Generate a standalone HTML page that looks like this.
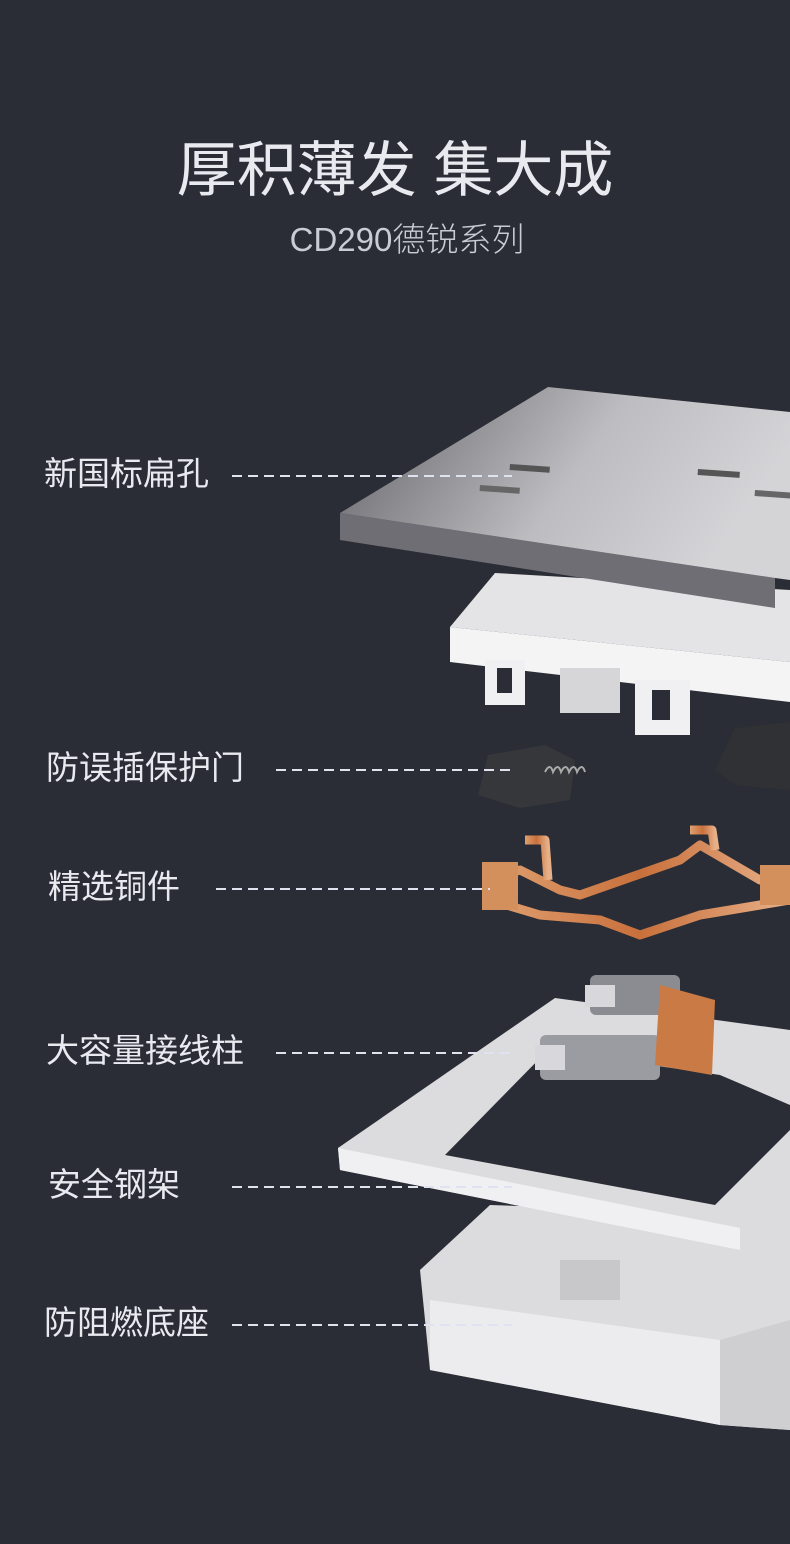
<!DOCTYPE html>
<html><head><meta charset="utf-8"><style>
body{margin:0;background:#2a2d35;}
.w{position:relative;width:790px;height:1544px;overflow:hidden;background:#2a2d35;font-family:"Liberation Sans","Noto Sans CJK SC",sans-serif;color:#e8eaf0}
.t{position:absolute;left:0;width:790px;text-align:center}
.l{position:absolute;font-size:33px;line-height:38px;white-space:nowrap}
</style></head><body><div class="w">
<div class="t" style="top:136px;font-size:60px;line-height:70px;">厚积薄发 集大成</div>
<div class="t" style="top:220px;font-size:33px;line-height:40px;color:#c9ccd4;font-weight:300;padding-left:24px;box-sizing:border-box">CD290德锐系列</div>
<svg width="790" height="1544" style="position:absolute;left:0;top:0">
<defs>
<linearGradient id="g1" x1="0" y1="0" x2="1" y2="0.3"><stop offset="0" stop-color="#606066"/><stop offset="0.6" stop-color="#bdbcc0"/><stop offset="1" stop-color="#d4d3d6"/></linearGradient>
<linearGradient id="cu" x1="0" y1="0" x2="1" y2="0"><stop offset="0" stop-color="#e0a070"/><stop offset="0.5" stop-color="#c8703c"/><stop offset="1" stop-color="#e8b088"/></linearGradient>
</defs>
<!-- base -->
<polygon points="490,1205 790,1215 790,1430 720,1425 430,1370 420,1270" fill="#dcdcde"/>
<polygon points="430,1300 720,1340 720,1425 430,1370" fill="#ececee"/>
<polygon points="720,1340 790,1320 790,1430 720,1425" fill="#cfcfd2"/>
<rect x="560" y="1260" width="60" height="40" fill="#c8c8cb"/>
<!-- frame -->
<polygon points="555,998 790,1030 790,1260 740,1250 340,1170 338,1148" fill="#dcdcdf"/>
<polygon points="548,1050 720,1075 790,1105 790,1130 715,1205 445,1155" fill="#2a2d35"/>
<polygon points="338,1148 740,1228 740,1250 340,1170" fill="#f0f0f2"/>
<!-- terminals -->
<rect x="590" y="975" width="90" height="40" rx="6" fill="#8a8c92"/>
<rect x="540" y="1035" width="120" height="45" rx="6" fill="#9a9ca2"/>
<polygon points="660,985 715,1000 712,1075 655,1065" fill="#c97a45"/>
<rect x="585" y="985" width="30" height="22" fill="#d8d8dc"/>
<rect x="535" y="1045" width="30" height="25" fill="#d8d8dc"/>
<!-- copper -->
<g fill="none" stroke="url(#cu)" stroke-width="9" stroke-linejoin="round">
<path d="M490,880 L520,870 L560,890 L580,895 L680,860 L700,845 L760,880 L790,870"/>
<path d="M490,900 L540,915 L600,920 L640,935 L700,915 L760,905 L790,900"/>
<path d="M525,840 L545,840 L548,880"/>
<path d="M690,830 L712,830 L715,850"/>
</g>
<rect x="482" y="862" width="36" height="48" fill="#d4905c"/>
<rect x="760" y="865" width="30" height="40" fill="#d4905c"/>
<!-- gates -->
<polygon points="488,755 545,745 575,760 570,800 520,808 478,795" fill="#35373b"/>
<polygon points="735,728 790,722 790,790 735,785 715,770" fill="#2f3135"/>
<path d="M545,772 q5,-10 8,0 q5,-10 8,0 q5,-10 8,0 q5,-10 8,0 q5,-10 8,0" stroke="#aaa" stroke-width="2" fill="none"/>
<!-- white plate -->
<polygon points="495,573 790,590 790,662 450,627" fill="#e4e4e6"/>
<polygon points="450,627 790,662 790,702 450,662" fill="#f4f4f5"/>
<rect x="485" y="660" width="40" height="45" fill="#f0f0f2"/><rect x="497" y="668" width="15" height="25" fill="#2a2d35"/>
<rect x="635" y="680" width="55" height="55" fill="#f0f0f2"/><rect x="652" y="690" width="18" height="30" fill="#2a2d35"/>
<rect x="560" y="668" width="60" height="45" fill="#d6d6d8"/>
<!-- panel -->
<polygon points="340,513 775,578 775,608 340,540" fill="#6e6e74"/>
<polygon points="548,387 790,412 790,580 775,578 340,513" fill="url(#g1)"/>
<rect x="510" y="464" width="40" height="6" fill="#555" transform="rotate(4 510 464)"/>
<rect x="480" y="485" width="40" height="6" fill="#666" transform="rotate(4 480 485)"/>
<rect x="698" y="469" width="42" height="6" fill="#555" transform="rotate(4 698 469)"/>
<rect x="755" y="490" width="40" height="6" fill="#666" transform="rotate(4 755 490)"/>
<g stroke="#dfe3f0" stroke-width="2" stroke-dasharray="10,6">
<line x1="232" y1="476" x2="512" y2="476"/>
<line x1="276" y1="770" x2="512" y2="770"/>
<line x1="216" y1="889" x2="490" y2="889"/>
<line x1="276" y1="1053" x2="512" y2="1053"/>
<line x1="232" y1="1187" x2="512" y2="1187"/>
<line x1="232" y1="1325" x2="512" y2="1325"/>
</g>
</svg>
<div class="l" style="left:44px;top:455px">新国标扁孔</div>
<div class="l" style="left:46px;top:749px">防误插保护门</div>
<div class="l" style="left:48px;top:868px">精选铜件</div>
<div class="l" style="left:46px;top:1032px">大容量接线柱</div>
<div class="l" style="left:48px;top:1166px">安全钢架</div>
<div class="l" style="left:44px;top:1304px">防阻燃底座</div>
</div></body></html>
